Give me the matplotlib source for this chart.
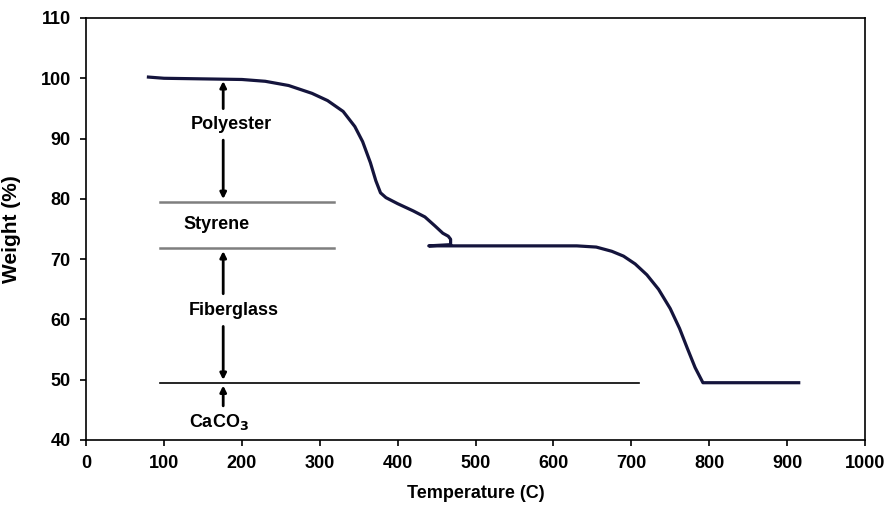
import matplotlib.pyplot as plt

plt.rcParams['font.family'] = ['Liberation Sans', 'DejaVu Sans']
plt.rcParams['font.weight'] = 'bold'

# TGA curve
temp = [80, 100, 150, 200, 230, 260, 290, 310, 330, 345, 355, 365, 372, 378,
        385, 400, 420, 435, 448, 458, 465, 468, 468, 440, 500, 560, 630,
        655, 675, 690, 705, 720, 735, 750, 762, 772, 782, 792, 850, 915]
weight = [100.2, 100.0, 99.9, 99.8, 99.5, 98.8, 97.5, 96.3, 94.5, 92.0, 89.5,
          86.0, 83.0, 81.0, 80.2, 79.2, 78.0, 77.0, 75.5, 74.3, 73.8, 73.3,
          72.4, 72.2, 72.2, 72.2, 72.2, 72.0, 71.3, 70.5, 69.2, 67.4, 65.0,
          61.8, 58.5, 55.2, 52.0, 49.5, 49.5, 49.5]

# reference levels
levels = [79.5, 71.8, 49.5]
level_ends = [318, 318, 710]
level_colors = ['#7f7f7f', '#7f7f7f', 'black']

labels = ['Polyester', 'Styrene', 'Fiberglass', 'CaCO$_{\\mathbf{3}}$']
label_x = [187, 167, 190, 171]
label_y = [92.3, 75.7, 61.5, 43.0]

fig = plt.figure(figsize=(8.88, 5.14), dpi=100)
ax = fig.add_axes([0.097, 0.144, 0.877, 0.821])

ax.plot(temp, weight, color='#14143c', lw=2.3, solid_joinstyle='round')

for lev, end, c in zip(levels, level_ends, level_colors):
    ax.plot([95, end], [lev, lev], color=c, lw=1.8 if c != 'black' else 1.2)

arr = dict(arrowstyle='-|>', color='black', lw=2, mutation_scale=9)
ax_x = 176
ax.annotate('', xy=(ax_x, 100), xytext=(ax_x, 94.5), arrowprops=arr)
ax.annotate('', xy=(ax_x, 79.5), xytext=(ax_x, 90.2), arrowprops=arr)
ax.annotate('', xy=(ax_x, 71.8), xytext=(ax_x, 63.8), arrowprops=arr)
ax.annotate('', xy=(ax_x, 49.5), xytext=(ax_x, 59.3), arrowprops=arr)
ax.annotate('', xy=(ax_x, 49.5), xytext=(ax_x, 45.2), arrowprops=arr)

for t, x, y in zip(labels, label_x, label_y):
    ax.text(x, y, t, ha='center', va='center', fontsize=13, fontweight='bold')

ax.set_xlim(0, 1000)
ax.set_ylim(40, 110)
ax.set_xticks(range(0, 1001, 100))
ax.set_yticks(range(40, 111, 10))
ax.tick_params(direction='out', length=4, width=1.2, labelsize=13, pad=7)
for lab in ax.get_xticklabels() + ax.get_yticklabels():
    lab.set_fontweight('bold')
for s in ax.spines.values():
    s.set_linewidth(1.2)

ax.set_xlabel('Temperature (C)', fontsize=13, fontweight='bold', labelpad=9)
ax.set_ylabel('Weight (%)', fontsize=15, fontweight='bold', labelpad=14)

fig.savefig('out.png', dpi=100)
